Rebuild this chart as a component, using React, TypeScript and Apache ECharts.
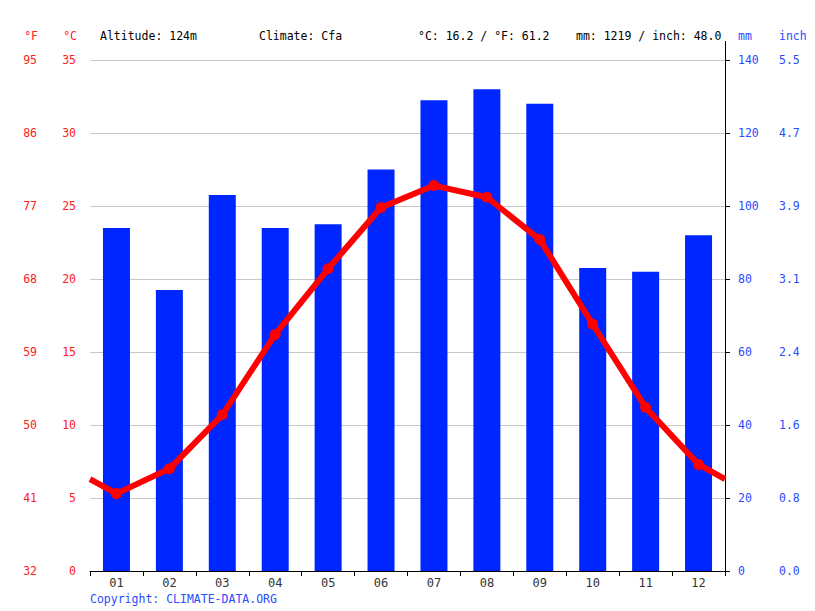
import React, { useEffect, useRef } from "react";
import * as echarts from "echarts";

const months = ["01", "02", "03", "04", "05", "06", "07", "08", "09", "10", "11", "12"];
const precipitationMm = [94, 77, 103, 94, 95, 110, 129, 132, 128, 83, 82, 92];
const temperatureC = [5.3, 7.0, 10.7, 16.2, 20.7, 24.9, 26.4, 25.6, 22.7, 16.9, 11.2, 7.3];
const fahrenheitLabels = ["32", "41", "50", "59", "68", "77", "86", "95"];
const inchLabels = ["0.0", "0.8", "1.6", "2.4", "3.1", "3.9", "4.7", "5.5"];
const headerTexts = [
  { text: "Altitude: 124m", x: 100 },
  { text: "Climate: Cfa", x: 259 },
  { text: "°C: 16.2 / °F: 61.2", x: 418 },
  { text: "mm: 1219 / inch: 48.0", x: 576 },
];

const FONT = "'DejaVu Sans Mono', monospace";
const RED = "#ff0000";
const RED_LABEL = "#ff2020";
const BLUE = "#0026ff";
const BLUE_LABEL = "#2a4cff";

export default function App() {
  const ref = useRef<HTMLDivElement>(null);
  useEffect(() => {
    if (!ref.current) return;
    const chart = echarts.init(ref.current, undefined, { renderer: "svg" });
    const edge = (temperatureC[0] + temperatureC[11]) / 2;
    const lineData: any[] = [{ value: [0, edge], symbol: "none" }];
    temperatureC.forEach((t, i) => lineData.push({ value: [i + 0.5, t] }));
    lineData.push({ value: [12, edge], symbol: "none" });

    const fontBase = { fontFamily: FONT, fontSize: 11.5 };
    chart.setOption({
      animation: false,
      textStyle: { fontFamily: FONT },
      grid: { left: 90, right: 90, top: 60, bottom: 40 },
      xAxis: [
        {
          type: "category",
          data: months,
          boundaryGap: true,
          axisLine: { show: true, lineStyle: { color: "#000", width: 1 } },
          axisTick: { show: true, length: 5, lineStyle: { color: "#000" } },
          axisLabel: { ...fontBase, fontSize: 12, color: "#333", margin: 6 },
          splitLine: { show: false },
        },
        {
          type: "value",
          min: 0,
          max: 12,
          show: false,
        },
      ],
      yAxis: [
        {
          type: "value",
          position: "left",
          min: 0,
          max: 35,
          interval: 5,
          axisLine: { show: false },
          axisTick: { show: false },
          splitLine: { show: true, lineStyle: { color: "#c8c8c8", width: 1 } },
          axisLabel: { ...fontBase, color: RED_LABEL, margin: 14 },
        },
        {
          type: "value",
          position: "left",
          offset: 39,
          min: 0,
          max: 35,
          interval: 5,
          axisLine: { show: false },
          axisTick: { show: false },
          splitLine: { show: false },
          axisLabel: {
            ...fontBase,
            color: RED_LABEL,
            margin: 14,
            formatter: (v: number) => fahrenheitLabels[Math.round(v / 5)] ?? "",
          },
        },
        {
          type: "value",
          position: "right",
          min: 0,
          max: 140,
          interval: 20,
          axisLine: { show: true, lineStyle: { color: "#000", width: 1 } },
          axisTick: { show: true, length: 5, inside: false, lineStyle: { color: "#000" } },
          splitLine: { show: false },
          axisLabel: { ...fontBase, color: BLUE_LABEL, margin: 13 },
        },
        {
          type: "value",
          position: "right",
          offset: 41,
          min: 0,
          max: 140,
          interval: 20,
          axisLine: { show: false },
          axisTick: { show: false },
          splitLine: { show: false },
          axisLabel: {
            ...fontBase,
            color: BLUE_LABEL,
            margin: 13,
            formatter: (v: number) => inchLabels[Math.round(v / 20)] ?? "",
          },
        },
      ],
      series: [
        {
          type: "bar",
          xAxisIndex: 0,
          yAxisIndex: 2,
          data: precipitationMm,
          barWidth: 27,
          itemStyle: { color: BLUE },
        },
        {
          type: "line",
          xAxisIndex: 1,
          yAxisIndex: 0,
          data: lineData,
          symbol: "circle",
          symbolSize: 11,
          lineStyle: { color: RED, width: 6 },
          itemStyle: { color: RED },
          z: 5,
        },
      ],
      graphic: [
        {
          type: "line",
          shape: { x1: 725.5, y1: 41, x2: 725.5, y2: 60 },
          style: { stroke: "#000", lineWidth: 1 },
        },
        {
          type: "text",
          x: 38,
          y: 36,
          style: { text: "°F", align: "right", verticalAlign: "middle", fill: RED_LABEL, font: `11.5px ${FONT}` },
        },
        {
          type: "text",
          x: 77,
          y: 36,
          style: { text: "°C", align: "right", verticalAlign: "middle", fill: RED_LABEL, font: `11.5px ${FONT}` },
        },
        ...headerTexts.map((h) => ({
          type: "text",
          x: h.x,
          y: 36,
          style: { text: h.text, align: "left", verticalAlign: "middle", fill: "#000", font: `11.5px ${FONT}` },
        })),
        {
          type: "text",
          x: 738,
          y: 36,
          style: { text: "mm", align: "left", verticalAlign: "middle", fill: BLUE_LABEL, font: `11.5px ${FONT}` },
        },
        {
          type: "text",
          x: 779,
          y: 36,
          style: { text: "inch", align: "left", verticalAlign: "middle", fill: BLUE_LABEL, font: `11.5px ${FONT}` },
        },
        {
          type: "text",
          x: 90,
          y: 599,
          style: {
            text: "Copyright: CLIMATE-DATA.ORG",
            align: "left",
            verticalAlign: "middle",
            fill: BLUE_LABEL,
            font: `11.5px ${FONT}`,
          },
        },
      ],
    });
    return () => chart.dispose();
  }, []);
  return <div ref={ref} style={{ width: 815, height: 611, position: "absolute", left: 0, top: 0 }} />;
}
